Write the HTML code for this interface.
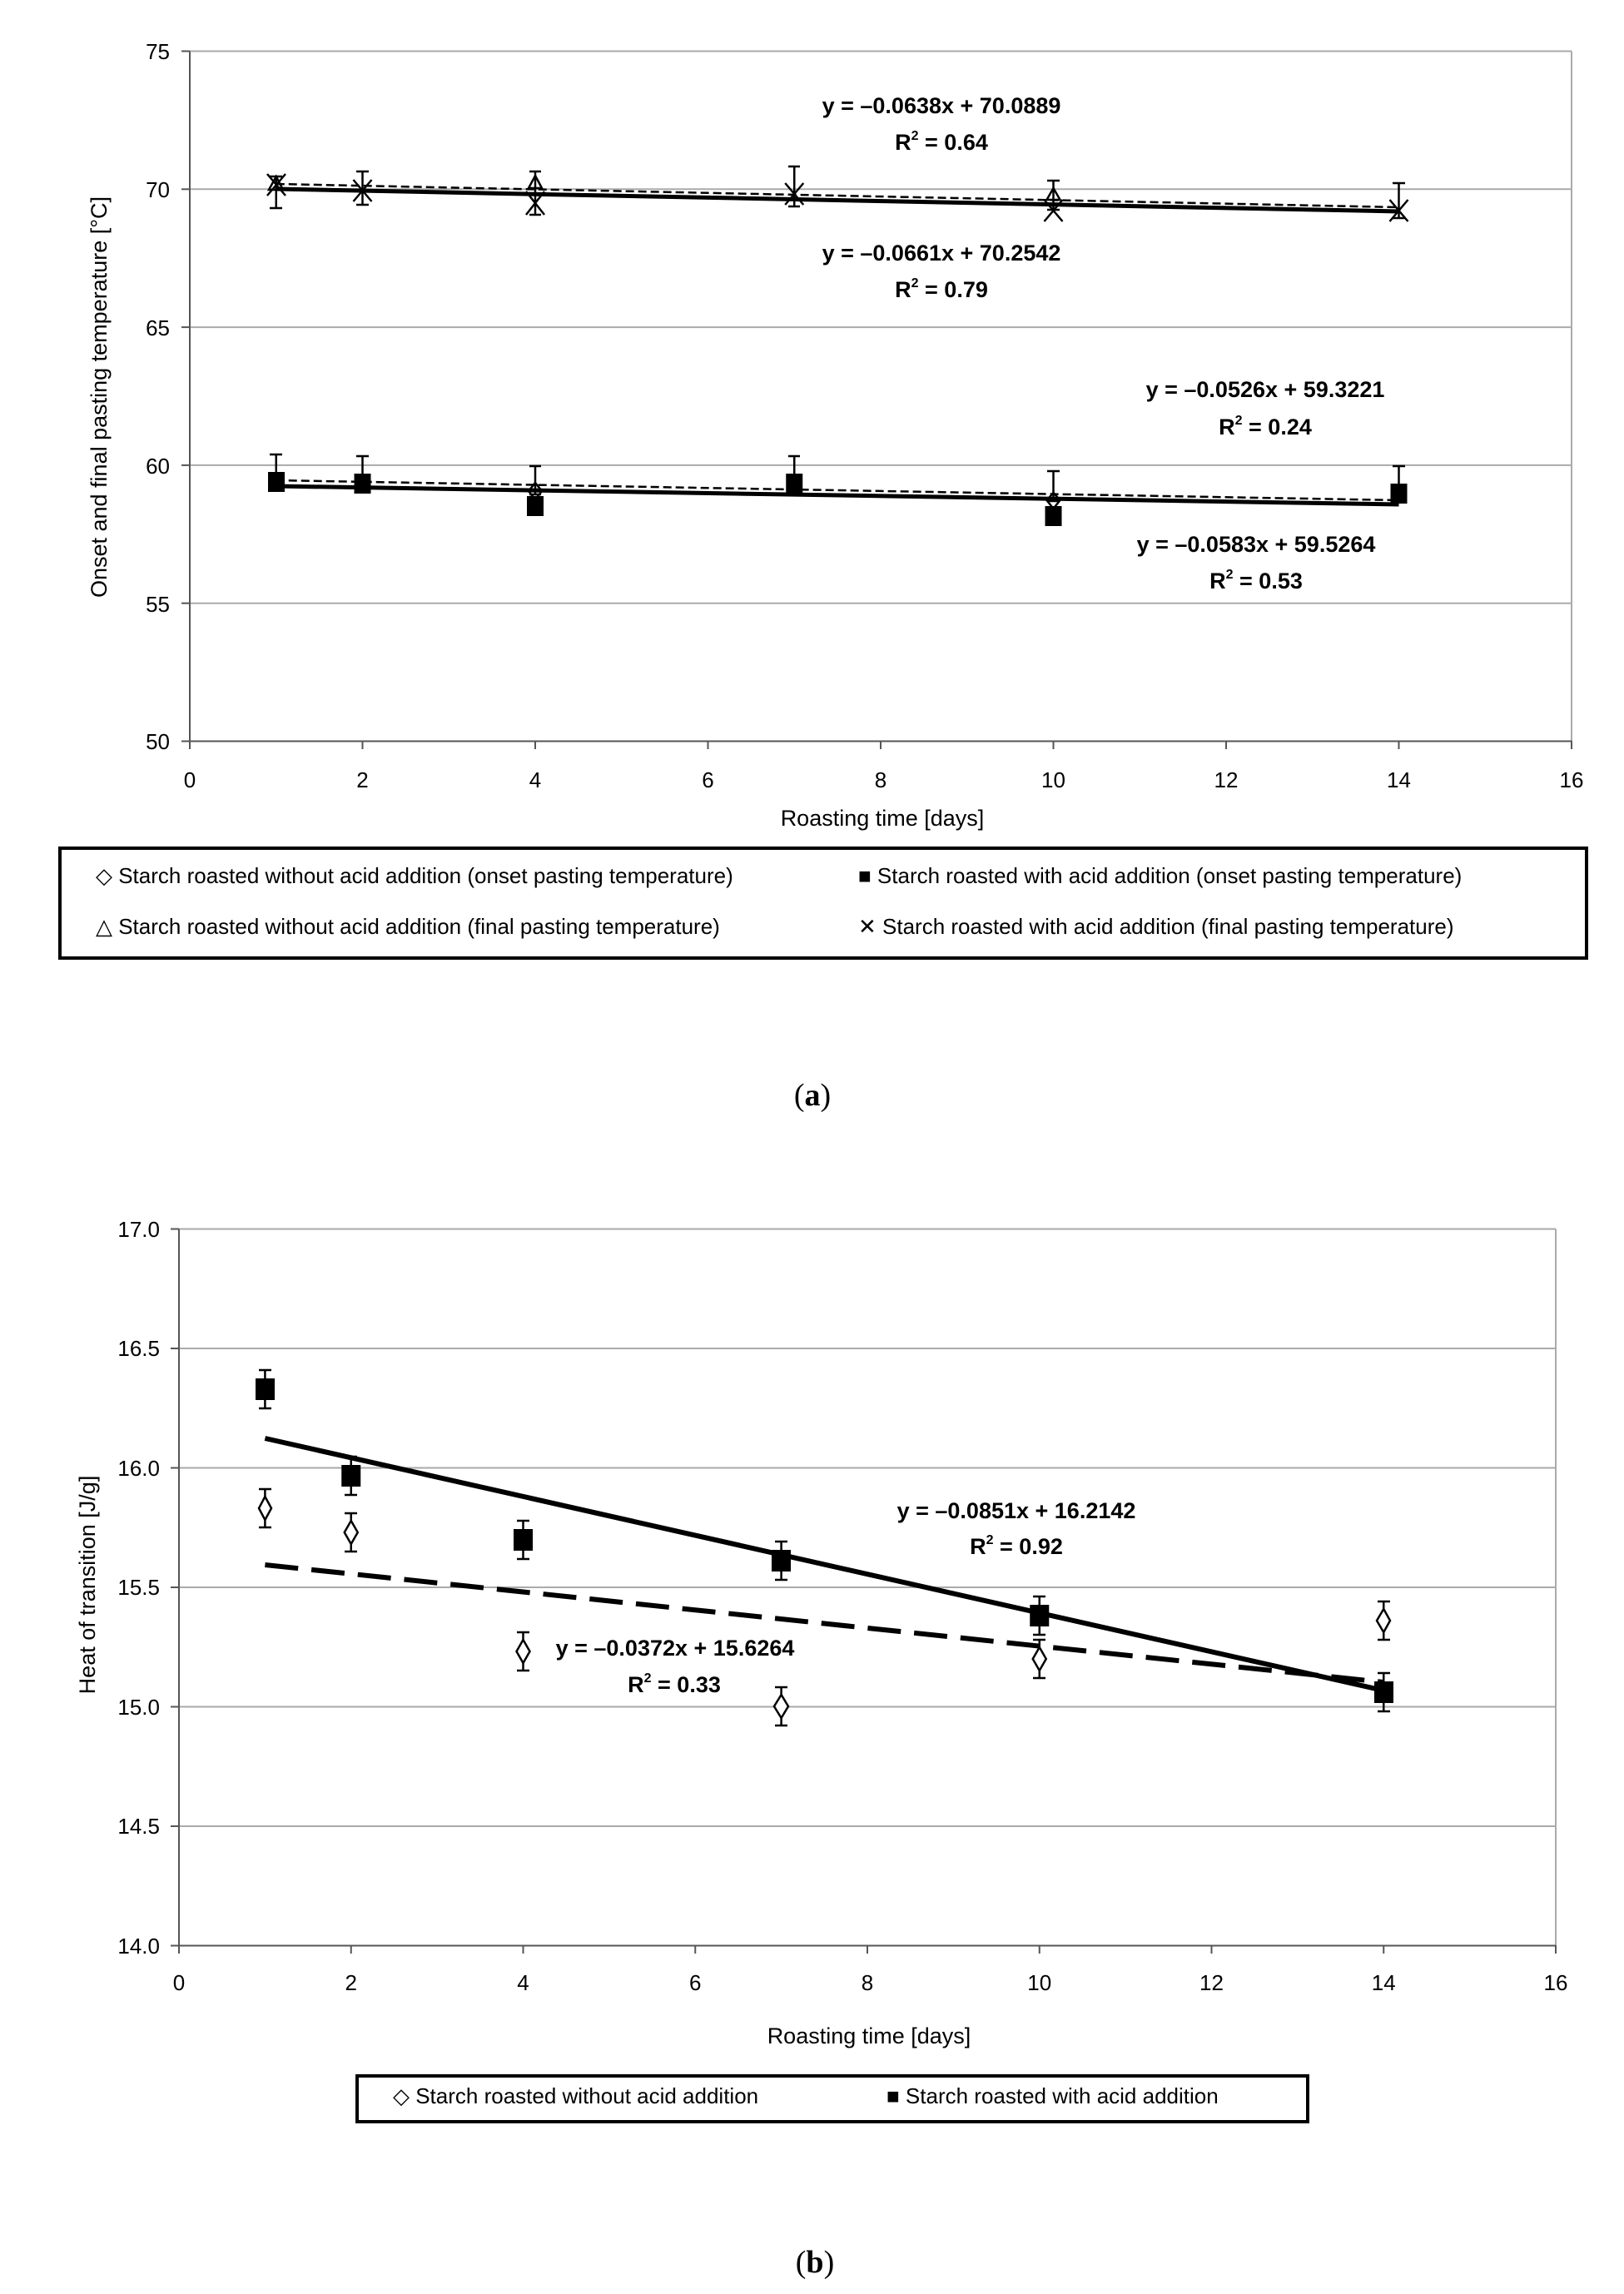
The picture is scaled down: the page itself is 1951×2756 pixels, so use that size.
<!DOCTYPE html>
<html><head><meta charset="utf-8"><style>body{margin:0;background:#fff}svg{display:block}</style></head><body>
<svg width="1951" height="2756" viewBox="0 0 1951 2756" xmlns="http://www.w3.org/2000/svg" font-family="Liberation Sans, sans-serif">
<g font-size="26" fill="#000">
<!-- Chart A -->
<g stroke="#aaa" stroke-width="2">
<line x1="228" y1="61.5" x2="1888" y2="61.5"/>
<line x1="228" y1="227.3" x2="1888" y2="227.3"/>
<line x1="228" y1="393.1" x2="1888" y2="393.1"/>
<line x1="228" y1="558.9" x2="1888" y2="558.9"/>
<line x1="228" y1="724.7" x2="1888" y2="724.7"/>
<line x1="1888" y1="61.5" x2="1888" y2="890.5"/>
</g>
<g stroke="#555" stroke-width="2">
<line x1="228" y1="61.5" x2="228" y2="890.5"/><line x1="228" y1="890.5" x2="1888" y2="890.5"/>
<line x1="218" y1="61.5" x2="228" y2="61.5"/><line x1="218" y1="227.3" x2="228" y2="227.3"/><line x1="218" y1="393.1" x2="228" y2="393.1"/><line x1="218" y1="558.9" x2="228" y2="558.9"/><line x1="218" y1="724.7" x2="228" y2="724.7"/><line x1="218" y1="890.5" x2="228" y2="890.5"/>
<line x1="228" y1="890" x2="228" y2="900"/><line x1="435.5" y1="890" x2="435.5" y2="900"/><line x1="643" y1="890" x2="643" y2="900"/><line x1="850.5" y1="890" x2="850.5" y2="900"/><line x1="1058" y1="890" x2="1058" y2="900"/><line x1="1265.5" y1="890" x2="1265.5" y2="900"/><line x1="1473" y1="890" x2="1473" y2="900"/><line x1="1680.5" y1="890" x2="1680.5" y2="900"/><line x1="1888" y1="890" x2="1888" y2="900"/>
</g>
<g text-anchor="end"><text x="204" y="71">75</text><text x="204" y="237">70</text><text x="204" y="403">65</text><text x="204" y="569">60</text><text x="204" y="735">55</text><text x="204" y="900">50</text></g>
<g text-anchor="middle"><text x="228" y="946">0</text><text x="435.5" y="946">2</text><text x="643" y="946">4</text><text x="850.5" y="946">6</text><text x="1058" y="946">8</text><text x="1265.5" y="946">10</text><text x="1473" y="946">12</text><text x="1680.5" y="946">14</text><text x="1888" y="946">16</text>
<text x="1060" y="992" font-size="27">Roasting time [days]</text>
<text transform="translate(128,477) rotate(-90)" font-size="27">Onset and final pasting temperature [°C]</text>
</g>
<!-- error bars A -->
<g stroke="#000" stroke-width="2.5">
<path d="M331.75 212V250M324 212H339M324 250H339 M435.5 206V246M428 206H443M428 246H443 M643 206V258M636 206H650M636 258H650 M954.25 200V248M947 200H961M947 248H961 M1265.5 217V252M1258 217H1273M1258 252H1273 M1680.5 220V262M1673 220H1688M1673 262H1688"/>
<path d="M331.75 546V578M324 546H339M324 578H339 M435.5 548V578M428 548H443M428 578H443 M643 560V594M636 560H650M636 594H650 M954.25 548V578M947 548H961M947 578H961 M1265.5 566V602M1258 566H1273M1258 602H1273 M1680.5 560V594M1673 560H1688M1673 594H1688"/>
</g>
<!-- trend lines A -->
<line x1="331.75" y1="221" x2="1680.5" y2="249" stroke="#000" stroke-width="2.5" stroke-dasharray="10,5"/>
<line x1="331.75" y1="227" x2="1680.5" y2="254" stroke="#000" stroke-width="5"/>
<line x1="331.75" y1="577" x2="1680.5" y2="601" stroke="#000" stroke-width="2.5" stroke-dasharray="10,5"/>
<line x1="331.75" y1="584" x2="1680.5" y2="606" stroke="#000" stroke-width="5"/>
<!-- markers A -->
<g fill="#000">
<rect x="322" y="567" width="20" height="24"/><rect x="425.5" y="569" width="20" height="24"/><rect x="633" y="596" width="20" height="24"/><rect x="944.25" y="569" width="20" height="24"/><rect x="1255.5" y="608" width="20" height="24"/><rect x="1670.5" y="581" width="20" height="24"/>
</g>
<g stroke="#000" stroke-width="2.5" fill="none">
<path d="M321 209L343 235M343 209L321 235 M424.5 216L446.5 242M446.5 216L424.5 242 M632 230L654 258M654 230L632 258 M943.25 220L965.25 246M965.25 220L943.25 246 M1254.5 240L1276.5 266M1276.5 240L1254.5 266 M1669.5 240L1691.5 266M1691.5 240L1669.5 266"/>
<path d="M331.75 212L340 228H323Z M643 211L651 226H635Z M1265.5 226L1273.5 240H1257.5Z"/>
<path d="M643 580L651 590L643 600L635 590Z M1265.5 592L1273.5 601L1265.5 611L1257.5 601Z"/>
</g>
<g font-weight="bold" font-size="27" text-anchor="middle">
<text x="1131" y="136">y = –0.0638x + 70.0889</text><text x="1131" y="180">R<tspan font-size="16" dy="-12">2</tspan><tspan dy="12"> = 0.64</tspan></text>
<text x="1131" y="313">y = –0.0661x + 70.2542</text><text x="1131" y="357">R<tspan font-size="16" dy="-12">2</tspan><tspan dy="12"> = 0.79</tspan></text>
<text x="1520" y="477">y = –0.0526x + 59.3221</text><text x="1520" y="522">R<tspan font-size="16" dy="-12">2</tspan><tspan dy="12"> = 0.24</tspan></text>
<text x="1509" y="663">y = –0.0583x + 59.5264</text><text x="1509" y="707">R<tspan font-size="16" dy="-12">2</tspan><tspan dy="12"> = 0.53</tspan></text>
</g>
<rect x="72" y="1019" width="1834" height="132" fill="none" stroke="#000" stroke-width="4"/>
<text x="115" y="1061">◇ Starch roasted without acid addition (onset pasting temperature)</text>
<text x="1031" y="1061">■ Starch roasted with acid addition (onset pasting temperature)</text>
<text x="115" y="1122">△ Starch roasted without acid addition (final pasting temperature)</text>
<text x="1031" y="1122">✕ Starch roasted with acid addition (final pasting temperature)</text>
<text x="976" y="1328" font-family="Liberation Serif, serif" font-size="38" text-anchor="middle">(<tspan font-weight="bold">a</tspan>)</text>

<!-- Chart B -->
<g stroke="#aaa" stroke-width="2">
<line x1="215" y1="1476.5" x2="1869" y2="1476.5"/>
<line x1="215" y1="1620" x2="1869" y2="1620"/>
<line x1="215" y1="1763.5" x2="1869" y2="1763.5"/>
<line x1="215" y1="1907" x2="1869" y2="1907"/>
<line x1="215" y1="2050.5" x2="1869" y2="2050.5"/>
<line x1="215" y1="2194" x2="1869" y2="2194"/>
<line x1="1869" y1="1476.5" x2="1869" y2="2337.5"/>
</g>
<g stroke="#555" stroke-width="2">
<line x1="215" y1="1476.5" x2="215" y2="2337.5"/><line x1="215" y1="2337.5" x2="1869" y2="2337.5"/>
<line x1="205" y1="1476.5" x2="215" y2="1476.5"/><line x1="205" y1="1620" x2="215" y2="1620"/><line x1="205" y1="1763.5" x2="215" y2="1763.5"/><line x1="205" y1="1907" x2="215" y2="1907"/><line x1="205" y1="2050.5" x2="215" y2="2050.5"/><line x1="205" y1="2194" x2="215" y2="2194"/><line x1="205" y1="2337.5" x2="215" y2="2337.5"/>
<line x1="215" y1="2337" x2="215" y2="2347"/><line x1="421.75" y1="2337" x2="421.75" y2="2347"/><line x1="628.5" y1="2337" x2="628.5" y2="2347"/><line x1="835.25" y1="2337" x2="835.25" y2="2347"/><line x1="1042" y1="2337" x2="1042" y2="2347"/><line x1="1248.75" y1="2337" x2="1248.75" y2="2347"/><line x1="1455.5" y1="2337" x2="1455.5" y2="2347"/><line x1="1662.25" y1="2337" x2="1662.25" y2="2347"/><line x1="1869" y1="2337" x2="1869" y2="2347"/>
</g>
<g text-anchor="end"><text x="192" y="1486">17.0</text><text x="192" y="1629">16.5</text><text x="192" y="1773">16.0</text><text x="192" y="1916">15.5</text><text x="192" y="2060">15.0</text><text x="192" y="2203">14.5</text><text x="192" y="2347">14.0</text></g>
<g text-anchor="middle"><text x="215" y="2391">0</text><text x="421.75" y="2391">2</text><text x="628.5" y="2391">4</text><text x="835.25" y="2391">6</text><text x="1042" y="2391">8</text><text x="1248.75" y="2391">10</text><text x="1455.5" y="2391">12</text><text x="1662.25" y="2391">14</text><text x="1869" y="2391">16</text>
<text x="1044" y="2455" font-size="27">Roasting time [days]</text>
<text transform="translate(114,1904) rotate(-90)" font-size="27">Heat of transition [J/g]</text>
</g>
<g stroke="#000" stroke-width="2.5">
<path d="M318.4 1646V1692M311 1646H326M311 1692H326 M421.75 1750V1796M414 1750H429M414 1796H429 M628.5 1827V1873M621 1827H636M621 1873H636 M938.6 1852V1898M931 1852H946M931 1898H946 M1248.75 1918V1964M1241 1918H1256M1241 1964H1256 M1662.25 2010V2056M1655 2010H1670M1655 2056H1670"/>
<path d="M318.4 1789V1835M311 1789H326M311 1835H326 M421.75 1818V1864M414 1818H429M414 1864H429 M628.5 1961V2007M621 1961H636M621 2007H636 M938.6 2027V2073M931 2027H946M931 2073H946 M1248.75 1970V2016M1241 1970H1256M1241 2016H1256 M1662.25 1924V1970M1655 1924H1670M1655 1970H1670"/>
</g>
<line x1="318.4" y1="1728" x2="1662.25" y2="2031" stroke="#000" stroke-width="6"/>
<line x1="318.4" y1="1880" x2="1662.25" y2="2021" stroke="#000" stroke-width="6" stroke-dasharray="40,16"/>
<g fill="#000">
<rect x="307" y="1656" width="23" height="26"/><rect x="410.25" y="1760" width="23" height="26"/><rect x="617" y="1837" width="23" height="26"/><rect x="927" y="1862" width="23" height="26"/><rect x="1237.25" y="1928" width="23" height="26"/><rect x="1651" y="2020" width="23" height="26"/>
</g>
<g fill="#fff" stroke="#000" stroke-width="2.5">
<path d="M318.4 1798L326 1812L318.4 1826L311 1812Z M421.75 1827L429.75 1841L421.75 1855L413.75 1841Z M628.5 1970L636.5 1984L628.5 1998L620.5 1984Z M938.6 2036L947 2050L938.6 2064L930 2050Z M1248.75 1979L1256.75 1993L1248.75 2007L1240.75 1993Z M1662.25 1933L1670 1947L1662.25 1961L1654 1947Z"/>
</g>
<g font-weight="bold" font-size="27" text-anchor="middle">
<text x="1221" y="1824">y = –0.0851x + 16.2142</text><text x="1221" y="1867">R<tspan font-size="16" dy="-12">2</tspan><tspan dy="12"> = 0.92</tspan></text>
<text x="811" y="1989">y = –0.0372x + 15.6264</text><text x="810" y="2033">R<tspan font-size="16" dy="-12">2</tspan><tspan dy="12"> = 0.33</tspan></text>
</g>
<rect x="429" y="2494" width="1142" height="55" fill="none" stroke="#000" stroke-width="4"/>
<text x="472" y="2527">◇ Starch roasted without acid addition</text>
<text x="1065" y="2527">■ Starch roasted with acid addition</text>
<text x="979" y="2730" font-family="Liberation Serif, serif" font-size="38" text-anchor="middle">(<tspan font-weight="bold">b</tspan>)</text>
</g>
</svg>
</body></html>
